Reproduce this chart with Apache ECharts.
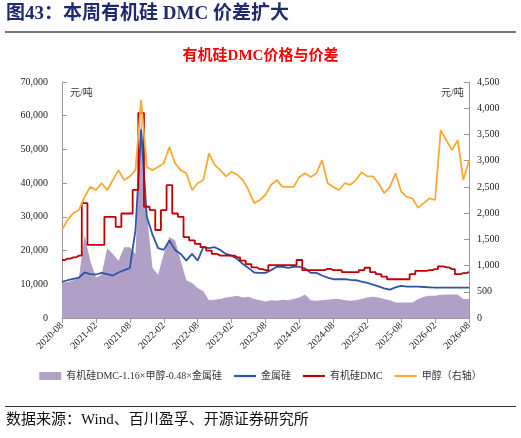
<!DOCTYPE html>
<html><head><meta charset="utf-8">
<script src="https://cdn.jsdelivr.net/npm/echarts@6/dist/echarts.min.js"></script>
<style>html,body{margin:0;padding:0;background:#fff}#c{width:521px;height:438px}</style>
</head><body><div id="c"></div>
<script>
const FONT = '"Liberation Serif","Noto Sans CJK SC",serif';
const months = [];
for (let y = 2020, m = 8; y < 2026 || (y === 2026 && m <= 8); ) {
  months.push(y + '-' + String(m).padStart(2, '0'));
  m++; if (m > 12) { m = 1; y++; }
}
const spread = [10400,10700,11200,12000,24600,17000,12000,12800,20700,19000,17000,21000,21000,19000,60000,31000,15000,12800,19000,24000,23000,17000,11200,10400,8900,7900,5300,5400,5600,6100,6300,6600,6100,6300,5600,5300,4900,5300,5100,5400,5300,5600,6100,7000,5300,5100,5300,5400,5600,5600,5300,5100,5300,5600,6100,6300,6100,5600,5300,4600,4600,4600,4600,5600,6300,6600,6600,6900,7000,7000,7000,5600,5600];
const silicon = [10700,11200,11600,12000,13500,13000,12900,13400,13000,12600,13500,14200,14800,26100,56000,30000,24800,20700,20200,23000,20200,19000,17000,19000,17000,21000,20700,21000,20200,19000,18500,17500,16000,14800,13500,13400,13400,14200,15200,15200,14900,15200,15200,14700,13400,13400,12600,12000,11500,11500,11500,11300,11200,10800,10400,9900,9400,8800,8400,9100,9500,9300,9300,9300,9200,9100,9000,9000,9000,9000,9000,9000,9000];
const dmc = [17200,17600,18000,18500,34100,21700,21700,21700,30000,30000,27000,31000,31000,38000,60800,33000,32000,26100,32000,39400,31000,30000,24000,23000,22000,21000,20000,19000,18500,18500,18500,18000,17000,16000,15000,14500,14200,15700,15700,15700,15700,15700,17200,14200,14200,14200,14200,14600,14200,14200,13600,13600,13600,14200,14900,13600,13000,12300,11500,11500,11500,11500,13000,14000,14000,14200,14500,15300,15000,14500,13000,13300,13600];
const methanol = [1680,1870,2000,2060,2310,2500,2440,2570,2440,2630,2820,2630,2700,2820,4160,2880,2820,2880,2950,3260,2950,2820,2760,2440,2570,2630,3140,2920,2820,2700,2790,2730,2630,2440,2190,2250,2350,2540,2630,2500,2500,2500,2690,2760,2690,2760,3010,2570,2500,2440,2570,2540,2630,2780,2700,2700,2570,2380,2500,2760,2410,2310,2280,2100,2190,2280,2250,3580,3390,3200,3390,2630,3000];
const leftTicks = [0,10000,20000,30000,40000,50000,60000,70000];
const rightTicks = [0,500,1000,1500,2000,2500,3000,3500,4000,4500];

const chart = echarts.init(document.getElementById('c'));
const axisLine = {show:true, lineStyle:{color:'#999'}};
const lineIcon = 'path://M0,0H20V2H0Z';
chart.setOption({
  animation:false,
  textStyle:{fontFamily:FONT},
  title:{text:'有机硅DMC价格与价差', left:'center', top:44,
    textStyle:{color:'#ff0000', fontSize:15, fontWeight:'bold', fontFamily:FONT}},
  graphic:[
    {type:'text', left:6, top:5, style:{text:'图43：本周有机硅 DMC 价差扩大', fill:'#1f2a6e', font:'bold 19px '+FONT}},
    {type:'rect', shape:{x:5, y:31, width:511, height:2}, style:{fill:'#777'}},
    {type:'rect', shape:{x:5, y:406, width:511, height:1}, style:{fill:'#333'}},
    {type:'text', left:6, top:413, style:{text:'数据来源：Wind、百川盈孚、开源证券研究所', fill:'#111', font:'15px '+FONT}},
    {type:'text', left:70, top:88, style:{text:'元/吨', fill:'#333', font:'10px '+FONT}},
    {type:'text', left:441, top:88, style:{text:'元/吨', fill:'#333', font:'10px '+FONT}}
  ],
  legend:{bottom:52, left:'center', itemGap:12, itemWidth:22, itemHeight:8,
    textStyle:{fontSize:10, color:'#333', fontFamily:FONT},
    data:[{name:'有机硅DMC-1.16×甲醇-0.48×金属硅', icon:'rect'},
          {name:'金属硅', icon:lineIcon, itemStyle:{color:'#2f55a4'}},
          {name:'有机硅DMC', icon:lineIcon, itemStyle:{color:'#c00000'}},
          {name:'甲醇（右轴）', icon:lineIcon, itemStyle:{color:'#ffa733'}}]},
  grid:{left:62, right:52, top:82, bottom:120},
  xAxis:{type:'category', data:months, boundaryGap:false,
    axisLine:axisLine, axisTick:{show:true, interval:5, lineStyle:{color:'#999'}},
    axisLabel:{interval:5, rotate:45, fontSize:10, color:'#222', margin:6, fontFamily:FONT}},
  yAxis:[
    {type:'value', min:0, max:70000, interval:10000, position:'left',
     splitLine:{show:false}, axisLine:axisLine, axisTick:{show:true, inside:true, lineStyle:{color:'#999'}},
     axisLabel:{fontSize:10, color:'#222', margin:14, fontFamily:FONT,
       formatter:v=>leftTicks.includes(v)?v.toLocaleString('en-US'):''}},
    {type:'value', min:0, max:4500, interval:500, position:'right',
     splitLine:{show:false}, axisLine:axisLine, axisTick:{show:true, inside:true, lineStyle:{color:'#999'}},
     axisLabel:{fontSize:10, color:'#222', margin:8, fontFamily:FONT,
       formatter:v=>rightTicks.includes(v)?v.toLocaleString('en-US'):''}}
  ],
  series:[
    {name:'有机硅DMC-1.16×甲醇-0.48×金属硅', type:'line', data:spread, symbol:'none',
     lineStyle:{width:0}, itemStyle:{color:'#b09fc6'}, areaStyle:{color:'#b09fc6', opacity:1}},
    {name:'金属硅', type:'line', data:silicon, symbol:'none', lineStyle:{width:1.8, color:'#2f55a4'}, itemStyle:{color:'#2f55a4'}},
    {name:'有机硅DMC', type:'line', data:dmc, symbol:'none', step:'middle', lineStyle:{width:1.8, color:'#c00000'}, itemStyle:{color:'#c00000'}},
    {name:'甲醇（右轴）', type:'line', yAxisIndex:1, data:methanol, symbol:'none', lineStyle:{width:1.8, color:'#ffa733'}, itemStyle:{color:'#ffa733'}}
  ]
});
</script></body></html>
